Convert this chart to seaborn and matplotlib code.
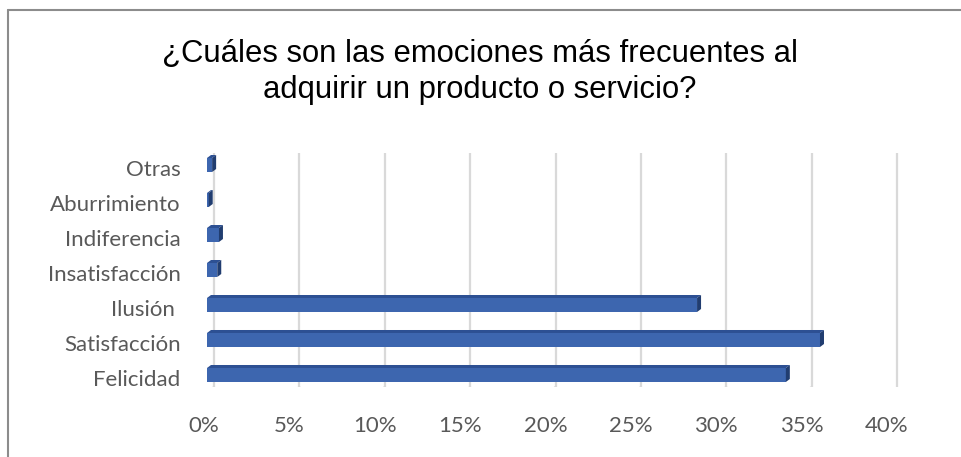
import matplotlib
matplotlib.use("Agg")
import matplotlib.pyplot as plt
import seaborn as sns
import pandas as pd
from matplotlib.patches import Polygon
from matplotlib.lines import Line2D
from matplotlib.transforms import offset_copy, IdentityTransform, ScaledTranslation

# Survey answers (% of respondents)
emociones = ["Otras", "Aburrimiento", "Indiferencia", "Insatisfacción",
             "Ilusión ", "Satisfacción", "Felicidad"]
porcentajes = [0.3, 0.1, 0.7, 0.6, 28.7, 35.9, 33.9]
ticks_pct = [0, 5, 10, 15, 20, 25, 30, 35, 40]
tick_labels = ["0%", "5%", "10%", "15%", "20%", "25%", "30%", "35%", "40%"]
titulo = "¿Cuáles son las emociones más frecuentes al\nadquirir un producto o servicio?"

df = pd.DataFrame({"emocion": emociones, "pct": porcentajes})

W, H, DPI = 962, 457, 100
FRONT = "#3D66AF"
TOP = "#2D5093"
SIDE = "#213D70"
GRID = "#D9D9D9"
TEXT = "#595959"

sns.set_style("white")
plt.rcParams["font.family"] = ["Lato", "DejaVu Sans"]

fig = plt.figure(figsize=(W / DPI, H / DPI), dpi=DPI)
# axes: left edge = bar origin, spans 0..40 %
ax_left, ax_right = 207, 890
ax_top, ax_bot = 153, 387
ax = fig.add_axes([ax_left / W, 1 - ax_bot / H,
                   (ax_right - ax_left) / W, (ax_bot - ax_top) / H])

sns.barplot(data=df, x="pct", y="emocion", orient="h", color=FRONT,
            saturation=1, width=0.4, ax=ax, zorder=3, edgecolor="none")
ax.set_xlim(0, 40)
ax.set_ylim(6.343, -0.343)
ax.set_xlabel("")
ax.set_ylabel("")
for s in ax.spines.values():
    s.set_visible(False)
ax.set_facecolor("none")

# back-wall gridlines and floor segments (3D depth)
back = offset_copy(ax.get_xaxis_transform(), fig=fig, x=7, y=0, units="dots")
for t in ticks_pct:
    ax.plot([t, t], [0, 1], transform=back, color=GRID, lw=1.6,
            zorder=1, clip_on=False, solid_capstyle="butt")
    p0 = ax.get_xaxis_transform().transform((t, 0))
    ax.add_line(Line2D([p0[0] + 7, p0[0] - 5], [p0[1], p0[1] - 10],
                       transform=IdentityTransform(), color=GRID, lw=1.6,
                       zorder=1))

ax.set_xticks(ticks_pct)
ax.set_xticklabels(tick_labels)
ax.tick_params(axis="x", length=0, pad=21, labelsize=16, labelcolor=TEXT)
ax.tick_params(axis="y", length=0, pad=19, labelsize=16, labelcolor=TEXT)
for lab in ax.get_xticklabels():
    lab.set_transform(lab.get_transform() + ScaledTranslation(-3 / DPI, 0, fig.dpi_scale_trans))
for lab in ax.get_yticklabels():
    lab.set_transform(lab.get_transform() + ScaledTranslation(0, -3 / DPI, fig.dpi_scale_trans))

# 3D top and side faces of each bar
dx, dy = 4, 3
for patch in ax.patches:
    x0, y0 = patch.get_x(), patch.get_y()
    w, h = patch.get_width(), patch.get_height()
    (lx, by), (rx, ty) = ax.transData.transform([(x0, y0 + h), (x0 + w, y0)])
    top = Polygon([(lx, ty), (rx, ty), (rx + dx, ty + dy), (lx + dx, ty + dy)],
                  closed=True, transform=IdentityTransform(), facecolor=TOP,
                  edgecolor="none", zorder=4)
    side = Polygon([(rx, ty), (rx + dx, ty + dy), (rx + dx, by + dy), (rx, by)],
                   closed=True, transform=IdentityTransform(), facecolor=SIDE,
                   edgecolor="none", zorder=4)
    ax.add_patch(top)
    ax.add_patch(side)

fig.text(0.499, 1 - 72 / H, titulo, ha="center", va="center", fontsize=22.3,
         family=["Liberation Sans", "DejaVu Sans"], color="#000000",
         linespacing=1.22)

# chart frame (top and left edges)
fig.add_artist(Line2D([8 / W, 1], [1 - 9.5 / H, 1 - 9.5 / H],
                      transform=fig.transFigure, color="#8C8C8C", lw=1.5))
fig.add_artist(Line2D([8 / W, 8 / W], [0, 1 - 9.5 / H],
                      transform=fig.transFigure, color="#8C8C8C", lw=1.5))

fig.savefig("out.png", dpi=DPI)
